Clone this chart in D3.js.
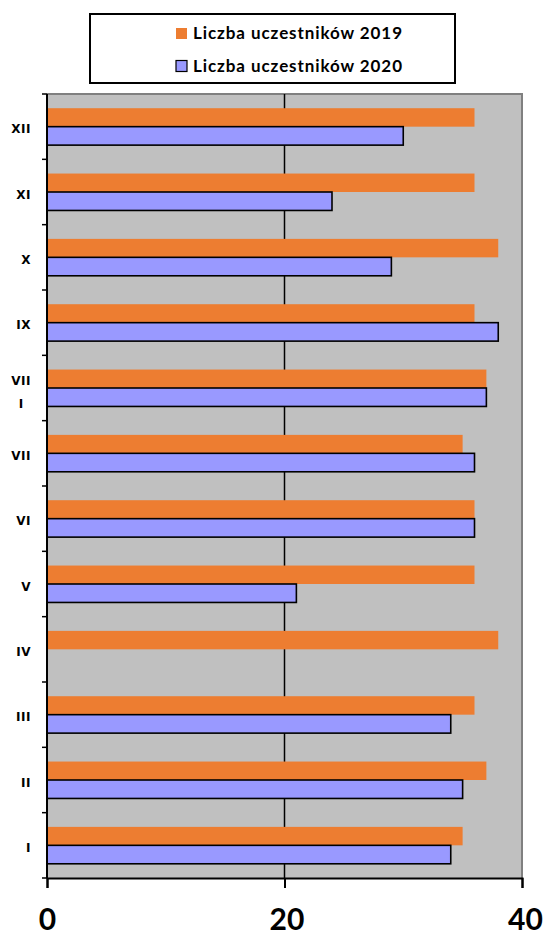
<!DOCTYPE html>
<html>
<head>
<meta charset="utf-8">
<script src="https://cdn.jsdelivr.net/npm/d3@7/dist/d3.min.js"></script>
<style>
  html, body { margin: 0; padding: 0; background: #ffffff; }
  svg { display: block; }
</style>
</head>
<body>
<svg id="chart" width="545" height="936"></svg>
<script>
// ---- data ----
const categories = ["I", "II", "III", "IV", "V", "VI", "VII", "VIII", "IX", "X", "XI", "XII"];
const categoryLabels = ["I", "II", "III", "IV", "V", "VI", "VII", ["VII", "I"], "IX", "X", "XI", "XII"];
const seriesNames = ["Liczba uczestników 2019", "Liczba uczestników 2020"];
const values2019 = [35, 37, 36, 38, 36, 36, 35, 37, 36, 38, 36, 36];
const values2020 = [34, 35, 34, 0, 21, 36, 36, 37, 38, 29, 24, 30];
const xTicks = [0, 20, 40];

const colors = ["#ED7D31", "#9999FF"];

const svg = d3.select("#chart");
const plot = { left: 47, right: 522, top: 94, bottom: 878 };

const x = d3.scaleLinear().domain([0, 40]).range([plot.left, plot.right]);
const topToBottom = categories.slice().reverse();
const y = d3.scaleBand().domain(topToBottom).range([plot.top, plot.bottom]).padding(0);
const inner = d3.scaleBand().domain([0, 1]).range([0, y.bandwidth()]).paddingInner(0).paddingOuter(0.77);

// plot background
svg.append("rect")
  .attr("x", plot.left).attr("y", plot.top)
  .attr("width", plot.right - plot.left).attr("height", plot.bottom - plot.top)
  .attr("fill", "#C0C0C0");

// grey frame top/right
svg.append("path")
  .attr("d", `M${plot.left},${plot.top}H${plot.right}V${plot.bottom}`)
  .attr("fill", "none").attr("stroke", "#808080").attr("stroke-width", 2);

// gridline at 20
svg.append("line")
  .attr("x1", x(20)).attr("x2", x(20))
  .attr("y1", plot.top).attr("y2", plot.bottom)
  .attr("stroke", "#000").attr("stroke-width", 1.5);

// bars
const rows = categories.map((c, i) => ({ cat: c, vals: [values2019[i], values2020[i]] }));
const g = svg.append("g");
rows.forEach(r => {
  r.vals.forEach((v, s) => {
    if (v <= 0) return;
    const rect = g.append("rect")
      .attr("x", x(0))
      .attr("y", y(r.cat) + inner(s))
      .attr("width", x(v) - x(0))
      .attr("height", inner.bandwidth())
      .attr("fill", colors[s]);
    if (s === 1) rect.attr("stroke", "#000").attr("stroke-width", 1.6);
  });
});

// x axis
const xAxis = d3.axisBottom(x).tickValues(xTicks).tickSize(10).tickPadding(0).tickFormat(d3.format("d"));
const xg = svg.append("g").attr("transform", `translate(0,${plot.bottom})`).call(xAxis);
xg.select(".domain").attr("stroke", "#000").attr("stroke-width", 2);
xg.selectAll(".tick line").attr("stroke", "#000").attr("stroke-width", 2);
xg.selectAll(".tick text")
  .attr("fill", "#000")
  .attr("y", 52)
  .attr("dy", 0)
  .attr("dx", (d, i) => i === 2 ? 3 : (i === 1 ? 2 : 0))
  .style("font-family", "Lato, 'Open Sans', sans-serif")
  .style("font-weight", "bold")
  .style("font-size", "30px");

// y axis: boundary ticks
const boundaries = topToBottom.map(c => y(c)).concat([plot.bottom]);
svg.append("line")
  .attr("x1", plot.left).attr("x2", plot.left)
  .attr("y1", plot.top).attr("y2", plot.bottom)
  .attr("stroke", "#000").attr("stroke-width", 2);
svg.selectAll("line.ytick").data(boundaries).enter().append("line")
  .attr("class", "ytick")
  .attr("x1", plot.left - 5).attr("x2", plot.left)
  .attr("y1", d => d).attr("y2", d => d)
  .attr("stroke", "#000").attr("stroke-width", 1.5);

// y labels
const labelX = 31;
categories.forEach((c, i) => {
  const lab = categoryLabels[i];
  const cy = y(c) + y.bandwidth() / 2 + 2.5;
  const t = svg.append("text")
    .attr("fill", "#000")
    .style("font-family", "'DejaVu Sans', sans-serif")
    .style("font-weight", "bold")
    .style("font-size", "12px")
    .style("letter-spacing", "0.5px");
  if (Array.isArray(lab)) {
    t.append("tspan").attr("x", labelX).attr("y", cy - 9.5).attr("text-anchor", "end").attr("dy", "0.35em").text(lab[0]);
    const w = t.select("tspan").node().getComputedTextLength();
    t.append("tspan").attr("x", labelX - w / 2).attr("y", cy + 13.5).attr("text-anchor", "middle").attr("dy", "0.35em").text(lab[1]);
  } else {
    t.attr("x", labelX).attr("y", cy).attr("text-anchor", "end").attr("dy", "0.35em").text(lab);
  }
});

// legend
const legend = svg.append("g");
legend.append("rect")
  .attr("x", 90).attr("y", 14).attr("width", 365).attr("height", 69)
  .attr("fill", "#fff").attr("stroke", "#000").attr("stroke-width", 2);
seriesNames.forEach((name, i) => {
  const cy = 33.5 + i * 32.5;
  legend.append("rect")
    .attr("x", 176).attr("y", cy - 5.5).attr("width", 11).attr("height", 11)
    .attr("fill", colors[i])
    .attr("stroke", i === 1 ? "#000" : "none").attr("stroke-width", 1.2);
  legend.append("text")
    .attr("x", 193).attr("y", cy + 5.5)
    .attr("fill", "#000")
    .attr("textLength", 209)
    .attr("lengthAdjust", "spacing")
    .style("font-family", "Lato, 'Open Sans', sans-serif")
    .style("font-weight", "bold")
    .style("font-size", "17px")
    .text(name);
});
</script>
</body>
</html>
